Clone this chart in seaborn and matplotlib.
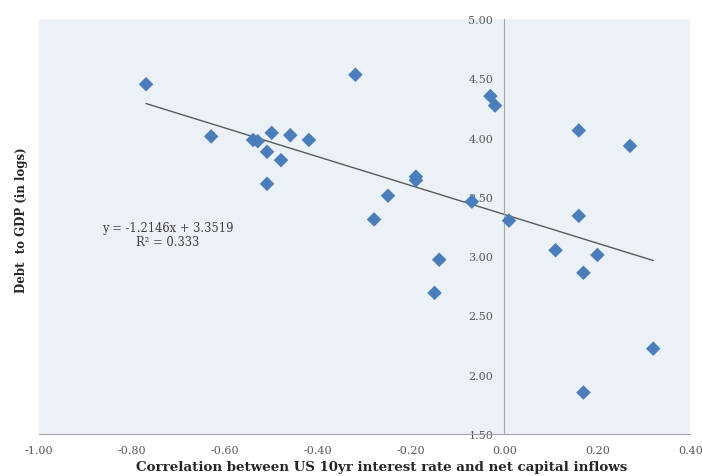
import numpy as np
import pandas as pd
import matplotlib
matplotlib.use("Agg")
import matplotlib.pyplot as plt
import seaborn as sns

# correlation (x) vs debt to GDP in logs (y)
corr = [-0.77, -0.63, -0.54, -0.53, -0.50, -0.51, -0.48, -0.46, -0.42, -0.51,
        -0.32, -0.03, -0.02, -0.19, -0.19, -0.25, -0.28, -0.07, 0.01, 0.16,
        0.27, 0.16, 0.11, 0.20, 0.17, 0.32, 0.17, -0.14, -0.15]
debt = [4.45, 4.01, 3.98, 3.97, 4.04, 3.88, 3.81, 4.02, 3.98, 3.61,
        4.53, 4.35, 4.27, 3.67, 3.64, 3.51, 3.31, 3.46, 3.30, 4.06,
        3.93, 3.34, 3.05, 3.01, 2.86, 2.22, 1.85, 2.97, 2.69]

# Excel trendline reported on the chart
slope = -1.2146
intercept = 3.3519
r2 = 0.333

x_ticks = [-1.00, -0.80, -0.60, -0.40, -0.20, 0.00, 0.20, 0.40]
y_ticks = [1.50, 2.00, 2.50, 3.00, 3.50, 4.00, 4.50, 5.00]

df = pd.DataFrame({"corr": corr, "debt": debt})

sns.set_style("white")
plt.rcParams["font.family"] = ["DejaVu Serif"]

fig = plt.figure(figsize=(7.02, 4.77), dpi=100)
ax = fig.add_axes([0.0556, 0.088, 0.928, 0.870])
ax.set_facecolor("#ECF1F7")

sns.scatterplot(data=df, x="corr", y="debt", marker="D", s=55,
                color="#4A7EBB", edgecolor="none", ax=ax, zorder=3)

# trendline over the range of the data
xs = np.array([min(corr), max(corr)])
sns.lineplot(x=xs, y=slope * xs + intercept, color="#595959", linewidth=1.0,
             ax=ax, zorder=2)

ax.text(-0.723, 3.238, f"y = {slope}x + {intercept}", ha="center", va="center",
        fontsize=8.3, color="#404040")
ax.text(-0.723, 3.12, f"R² = {r2}", ha="center", va="center",
        fontsize=8.3, color="#404040")

ax.set_xlim(-1.0, 0.4)
ax.set_ylim(1.5, 5.0)
ax.set_xticks(x_ticks)
ax.set_yticks(y_ticks)
ax.set_xticklabels([f"{v:.2f}" for v in x_ticks])
ax.set_yticklabels([f"{v:.2f}" for v in y_ticks])

for side in ["top", "right"]:
    ax.spines[side].set_visible(False)
ax.spines["left"].set_position(("data", 0))
ax.spines["left"].set_color("#A6A6A6")
ax.spines["bottom"].set_color("#A6A6A6")
ax.tick_params(axis="both", direction="out", length=4, color="#A6A6A6",
               labelsize=8, labelcolor="#595959")
ax.tick_params(axis="x", pad=4)
ax.tick_params(axis="y", pad=4)

ax.set_xlabel("")
ax.set_ylabel("")
fig.text(0.543, 0.019, "Correlation between US 10yr interest rate and net capital inflows",
         ha="center", va="center", fontsize=9.6, fontweight="bold")
fig.text(0.031, 0.539, "Debt  to GDP (in logs)", rotation=90, ha="center",
         va="center", fontsize=8.5, fontweight="bold")

plt.savefig("out.png", dpi=100)
